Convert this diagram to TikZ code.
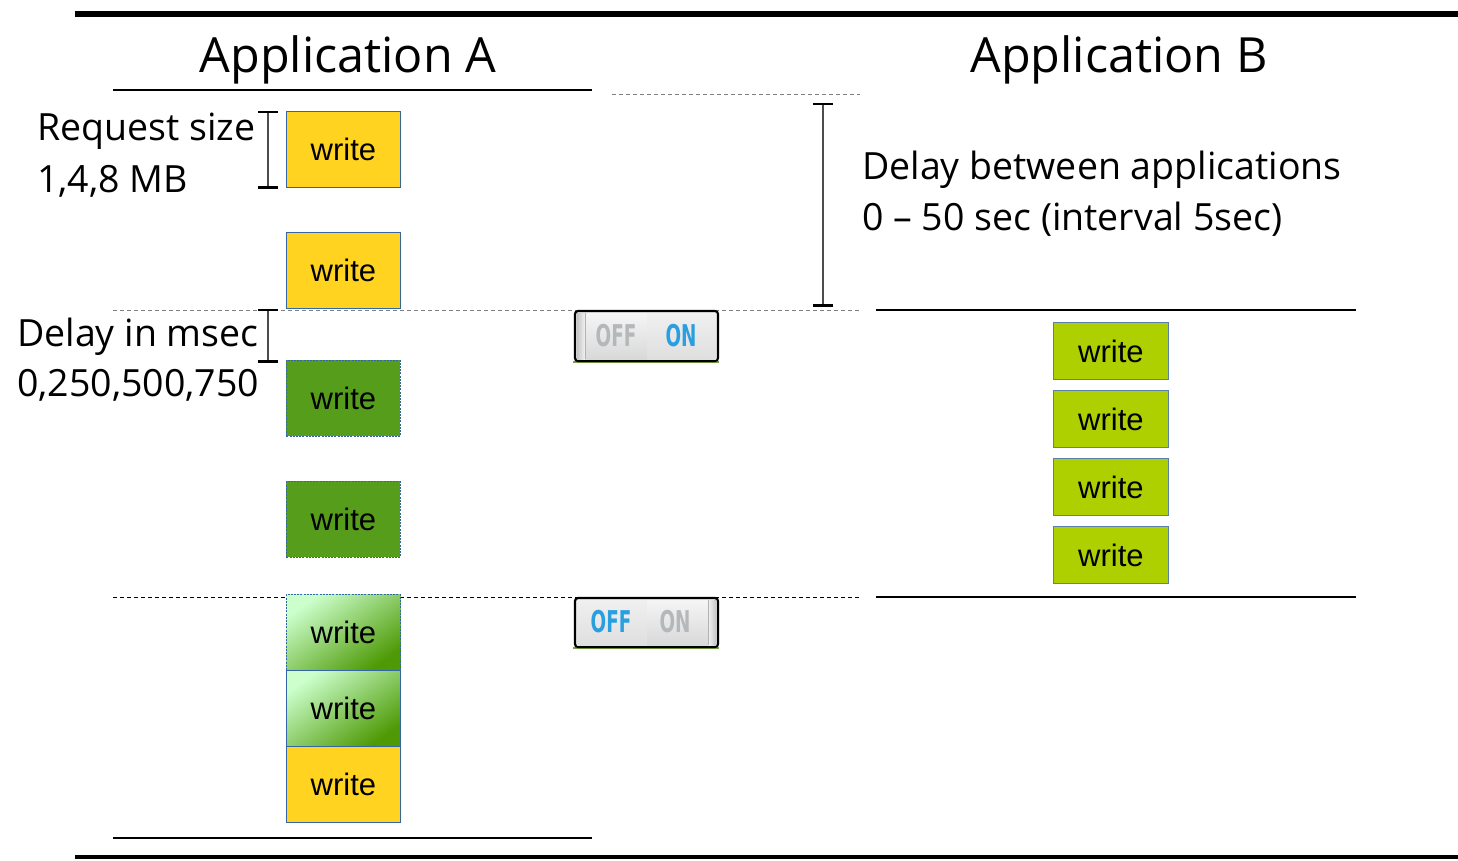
\documentclass[tikz,border=0pt]{standalone}
\usepackage{fontspec}
\setmainfont{Open Sans}
\newfontfamily\arialfont{Liberation Sans}
\newfontfamily\switchfont{DejaVu Sans Condensed}
\usetikzlibrary{calc}

\definecolor{wyellow}{HTML}{FFD320}
\definecolor{wdark}{HTML}{579D1C}
\definecolor{wlime}{HTML}{AECF00}
\definecolor{wlight}{HTML}{CCFFCC}
\definecolor{wdeep}{HTML}{4E9A06}
\definecolor{wborder}{HTML}{3465A4}
\definecolor{bborder}{HTML}{5B7FA6}
\definecolor{swblue}{HTML}{2A9FE0}
\definecolor{swgrey}{HTML}{B4B8BA}

\newcommand{\swlabel}[1]{\scalebox{0.68}[1]{#1}}

\tikzset{
  wbox/.style={draw=wborder, line width=0.9pt, minimum width=114pt, minimum height=76pt,
    inner sep=0pt, anchor=north west, font=\arialfont\fontsize{31}{36}\selectfont},
  bbox/.style={wbox, draw=bborder, fill=wlime, minimum width=115pt, minimum height=57pt},
  dotbox/.style={wbox, fill=wdark, dash pattern=on 2pt off 1.2pt},
  gradbox/.style={wbox, top color=wlight, bottom color=wdeep, shading angle=35},
  title/.style={font=\fontsize{48.5}{58}\selectfont, anchor=base},
  label/.style={font=\fontsize{37.5}{44}\selectfont, anchor=base west, inner sep=0pt},
  rule/.style={line width=2.5pt},
  thick rule/.style={line width=6pt},
  sep/.style={gray, line width=1pt, dash pattern=on 4pt off 3pt},
  sepdark/.style={black, line width=1pt, dash pattern=on 4pt off 3pt},
  bar/.style={gray!60!black, line width=1.4pt},
  barcap/.style={black, line width=3pt},
  swtext/.style={font=\switchfont\bfseries\fontsize{30}{32}\selectfont, inner sep=0pt},
}

\begin{document}
\begin{tikzpicture}[x=1pt, y=-1pt]
\useasboundingbox (0,0) rectangle (1458,861);

% frame rules
\draw[thick rule] (75,14) -- (1458,14);
\draw[line width=4pt] (75,857) -- (1458,857);

% titles and their rules
\node[title] (titleA) at (348,73) {Application A};
\node[title] (titleB) at (1119,73) {Application B};
\draw[rule] (113,90) -- (592,90);
\draw[rule] (113,838) -- (592,838);
\draw[rule] (876,310) -- (1356,310);
\draw[rule] (876,597) -- (1356,597);

% dashed phase separators
\draw[sep] (612,95) -- (860,95);
\draw[sep] (113,310) -- (860,310);
\draw[sepdark] (113,597) -- (860,597);

% application A requests
\node[wbox, fill=wyellow] (a1) at (286,111) {write};
\node[wbox, fill=wyellow] (a2) at (286,232) {write};
\node[dotbox] (a3) at (286,360) {write};
\node[dotbox] (a4) at (286,481) {write};
\node[gradbox, dash pattern=on 2pt off 1.2pt] (a5) at (286,594) {write};
\node[gradbox] (a6) at (286,670) {write};
\node[wbox, fill=wyellow] (a7) at (286,746) {write};

% application B requests
\node[bbox] (b1) at (1053,322) {write};
\node[bbox] (b2) at (1053,390) {write};
\node[bbox] (b3) at (1053,458) {write};
\node[bbox] (b4) at (1053,526) {write};

% annotations
\node[label] (rs)  at (37,141)  {Request size};
\node[label] (rsv) at (37,193)  {1,4,8 MB};
\node[label] (dm)  at (17,346)  {Delay in msec};
\node[label] (dmv) at (17,396)  {0,250,500,750};
\node[label] (db)  at (862,179) {Delay between applications};
\node[label] (dbv) at (862,230) {0 -- 50 sec (interval 5sec)};

% range bars
\coordinate (rsT) at (268,112); \coordinate (rsB) at (268,188);
\coordinate (dmT) at (268,310); \coordinate (dmB) at (268,361);
\coordinate (dbT) at (823,104); \coordinate (dbB) at (823,305);
\foreach \t/\b/\w in {rsT/rsB/10, dmT/dmB/10, dbT/dbB/10}{
  \draw[bar] (\t) -- (\b);
  \draw[barcap, line width=2.5pt] ($(\t)+(-\w,0)$) -- ($(\t)+(\w,0)$);
  \draw[barcap] ($(\b)+(-\w,0)$) -- ($(\b)+(\w,0)$);
}
\draw[barcap, line width=2pt] ($(dbT)+(-7,0)$) -- ($(dbT)+(7,0)$);

% switch turned on
\draw[yellow!50!green!70!black, line width=1.2pt] (573,362) -- (719,362);
\draw[black, line width=2.2pt, rounded corners=3pt, fill=gray!15] (575,311) rectangle (718,361);
\shade[left color=gray!45, right color=gray!10] (577,313) rectangle (585,359);
\shade[top color=gray!8, bottom color=gray!30] (585,313) rectangle (647,359);
\shade[top color=gray!12, bottom color=gray!25] (647,313) rectangle (716,359);
\draw[gray!60, line width=0.8pt] (585,313) -- (585,359);
\node[swtext, text=swgrey] (off1) at (616,336) {\swlabel{OFF}};
\node[swtext, text=swblue] (on1) at (681,336) {\swlabel{ON}};

% switch turned off
\draw[yellow!50!green!70!black, line width=1.2pt] (573,648) -- (719,648);
\draw[black, line width=2.2pt, rounded corners=3pt, fill=gray!15] (575,598) rectangle (718,647);
\shade[top color=gray!12, bottom color=gray!25] (577,600) rectangle (647,645);
\shade[top color=gray!8, bottom color=gray!30] (647,600) rectangle (708,645);
\shade[left color=gray!10, right color=gray!45] (708,600) rectangle (716,645);
\draw[gray!60, line width=0.8pt] (708,600) -- (708,645);
\node[swtext, text=swblue] (off2) at (611,622) {\swlabel{OFF}};
\node[swtext, text=swgrey] (on2) at (675,622) {\swlabel{ON}};
\end{tikzpicture}
\end{document}
